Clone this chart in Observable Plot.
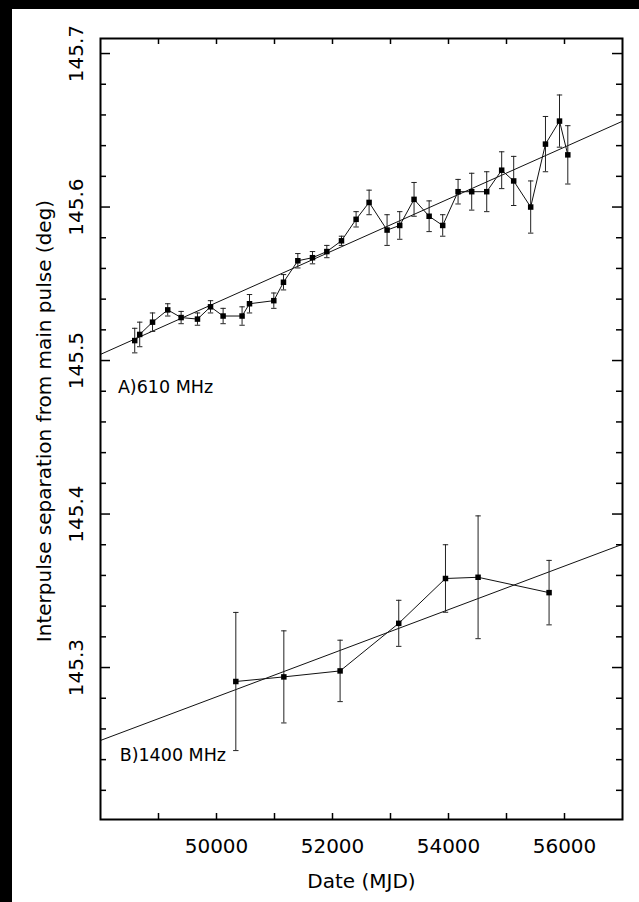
<!DOCTYPE html>
<html>
<head>
<meta charset="utf-8">
<script src="https://cdn.jsdelivr.net/npm/d3@7"></script>
<script src="https://cdn.jsdelivr.net/npm/@observablehq/plot@0.6"></script>
<style>
  html, body { margin: 0; padding: 0; background: #000; width: 639px; height: 902px; overflow: hidden; }
  #chart { position: absolute; left: 12px; top: 9px; width: 627px; height: 893px; background: #fff; }
  #chart svg { display: block; }
</style>
</head>
<body>
<div id="chart"></div>
<script>
// ---- Panel A: 610 MHz ----
const mjdA = [48590, 48676, 48897, 49159, 49390, 49672, 49897, 50114, 50441, 50569, 50988, 51155,
              51402, 51655, 51902, 52155, 52407, 52631, 52941, 53159, 53406, 53666, 53900, 54165,
              54400, 54659, 54917, 55124, 55417, 55672, 55914, 56057];
const valA = [145.513, 145.517, 145.525, 145.533, 145.528, 145.527, 145.535, 145.529, 145.529, 145.537, 145.539, 145.551,
              145.565, 145.567, 145.571, 145.578, 145.592, 145.603, 145.585, 145.588, 145.605, 145.594, 145.588, 145.610,
              145.610, 145.610, 145.624, 145.617, 145.600, 145.641, 145.656, 145.634];
const errA = [0.008, 0.008, 0.006, 0.004, 0.004, 0.004, 0.004, 0.005, 0.006, 0.006, 0.005, 0.005,
              0.0047, 0.004, 0.004, 0.003, 0.005, 0.008, 0.010, 0.009, 0.011, 0.010, 0.007, 0.008,
              0.012, 0.013, 0.012, 0.016, 0.017, 0.018, 0.017, 0.019];

// ---- Panel B: 1400 MHz ----
const mjdB = [50333, 51161, 52131, 53142, 53948, 54510, 55734];
const valB = [145.2909, 145.2939, 145.2978, 145.3288, 145.358, 145.3588, 145.3488];
const errB = [0.045, 0.030, 0.020, 0.015, 0.022, 0.040, 0.021];

// ---- Linear fits ----
const fitMjd = [48000, 57000];
const fitA = [145.504, 145.6559];
const fitB = [145.2525, 145.3803];

// ---- Panel labels (anchor in data units) ----
const panelLabels = ["A)610 MHz", "B)1400 MHz"];
const panelLabelMjd = [48300, 48330];
const panelLabelVal = [145.4825, 145.2429];

// ---- Axes ----
const xDomain = [48000, 57000];
const yDomain = [145.201, 145.7098];
const xTicks = [49000, 50000, 51000, 52000, 53000, 54000, 55000, 56000];
const xLabelTicks = [50000, 52000, 54000, 56000];
const yMajorTicks = [145.3, 145.4, 145.5, 145.6, 145.7];
const yMinorTicks = [145.22, 145.24, 145.26, 145.28, 145.32, 145.34, 145.36, 145.38,
                     145.42, 145.44, 145.46, 145.48, 145.52, 145.54, 145.56, 145.58,
                     145.62, 145.64, 145.66, 145.68];
const xTitle = "Date (MJD)";
const yTitle = "Interpulse separation from main pulse (deg)";

const rows = (m, v, e) => m.map((d, i) => ({mjd: d, v: v[i], e: e[i]}));
const dataA = rows(mjdA, valA, errA);
const dataB = rows(mjdB, valB, errB);
const fitRowsA = fitMjd.map((d, i) => ({mjd: d, v: fitA[i]}));
const fitRowsB = fitMjd.map((d, i) => ({mjd: d, v: fitB[i]}));
const labelRows = panelLabels.map((t, i) => ({t, mjd: panelLabelMjd[i], v: panelLabelVal[i]}));

const W = 627, H = 893;
const mL = 88, mR = 17, mT = 29, mB = 83;
const plotW = W - mL - mR, plotH = H - mT - mB;
const FONT = "DejaVu Sans";

const cap = {draw(context) { context.moveTo(-2.7, 0); context.lineTo(2.7, 0); }};

function errMarks(data) {
  return [
    Plot.ruleX(data, {x: "mjd", y1: d => d.v - d.e, y2: d => d.v + d.e, stroke: "#222", strokeWidth: 1}),
    Plot.dot(data, {x: "mjd", y: d => d.v + d.e, symbol: cap, r: 3, stroke: "#222", fill: "none", strokeWidth: 1}),
    Plot.dot(data, {x: "mjd", y: d => d.v - d.e, symbol: cap, r: 3, stroke: "#222", fill: "none", strokeWidth: 1}),
    Plot.line(data, {x: "mjd", y: "v", stroke: "#111", strokeWidth: 1}),
    Plot.dot(data, {x: "mjd", y: "v", symbol: "square", r: 3.1, fill: "#000", stroke: "none"})
  ];
}

const chart = Plot.plot({
  width: W, height: H,
  marginLeft: mL, marginRight: mR, marginTop: mT, marginBottom: mB,
  style: {background: "white", fontFamily: FONT},
  x: {domain: xDomain, axis: null},
  y: {domain: yDomain, axis: null},
  marks: [
    // fit lines
    Plot.line(fitRowsA, {x: "mjd", y: "v", stroke: "#111", strokeWidth: 1, clip: true}),
    Plot.line(fitRowsB, {x: "mjd", y: "v", stroke: "#111", strokeWidth: 1, clip: true}),
    ...errMarks(dataA),
    ...errMarks(dataB),
    // ticks (inside, all four sides)
    Plot.tickX(xTicks, {x: d => d, insetTop: plotH - 6, stroke: "#000", strokeWidth: 1.5}),
    Plot.tickX(xTicks, {x: d => d, insetBottom: plotH - 6, stroke: "#000", strokeWidth: 1.5}),
    Plot.tickY(yMajorTicks, {y: d => d, insetRight: plotW - 10, stroke: "#000", strokeWidth: 1.5}),
    Plot.tickY(yMajorTicks, {y: d => d, insetLeft: plotW - 10, stroke: "#000", strokeWidth: 1.5}),
    Plot.tickY(yMinorTicks, {y: d => d, insetRight: plotW - 6, stroke: "#000", strokeWidth: 1.5}),
    Plot.tickY(yMinorTicks, {y: d => d, insetLeft: plotW - 6, stroke: "#000", strokeWidth: 1.5}),
    Plot.frame({stroke: "#000", strokeWidth: 2}),
    // tick labels
    Plot.text(xLabelTicks, {x: d => d, frameAnchor: "bottom", dy: 27, text: d => String(d),
      fontSize: 20, fill: "#000", textAnchor: "middle", lineAnchor: "middle"}),
    Plot.text(yMajorTicks, {y: d => d, frameAnchor: "left", dx: -24, rotate: -90, text: d => d.toFixed(1),
      fontSize: 20, fill: "#000", textAnchor: "middle", lineAnchor: "middle"}),
    // axis titles
    Plot.text([xTitle], {frameAnchor: "bottom", dy: 62, text: d => d, fontSize: 20, fill: "#000",
      textAnchor: "middle", lineAnchor: "middle"}),
    Plot.text([yTitle], {frameAnchor: "left", dx: -56, dy: -8, rotate: -90, text: d => d, fontSize: 20, fill: "#000",
      textAnchor: "middle", lineAnchor: "middle"}),
    // panel labels
    Plot.text(labelRows, {x: "mjd", y: "v", text: "t", textAnchor: "start", fontSize: 17.5, fill: "#000", lineAnchor: "middle"})
  ]
});
document.getElementById("chart").appendChild(chart);
</script>
</body>
</html>
